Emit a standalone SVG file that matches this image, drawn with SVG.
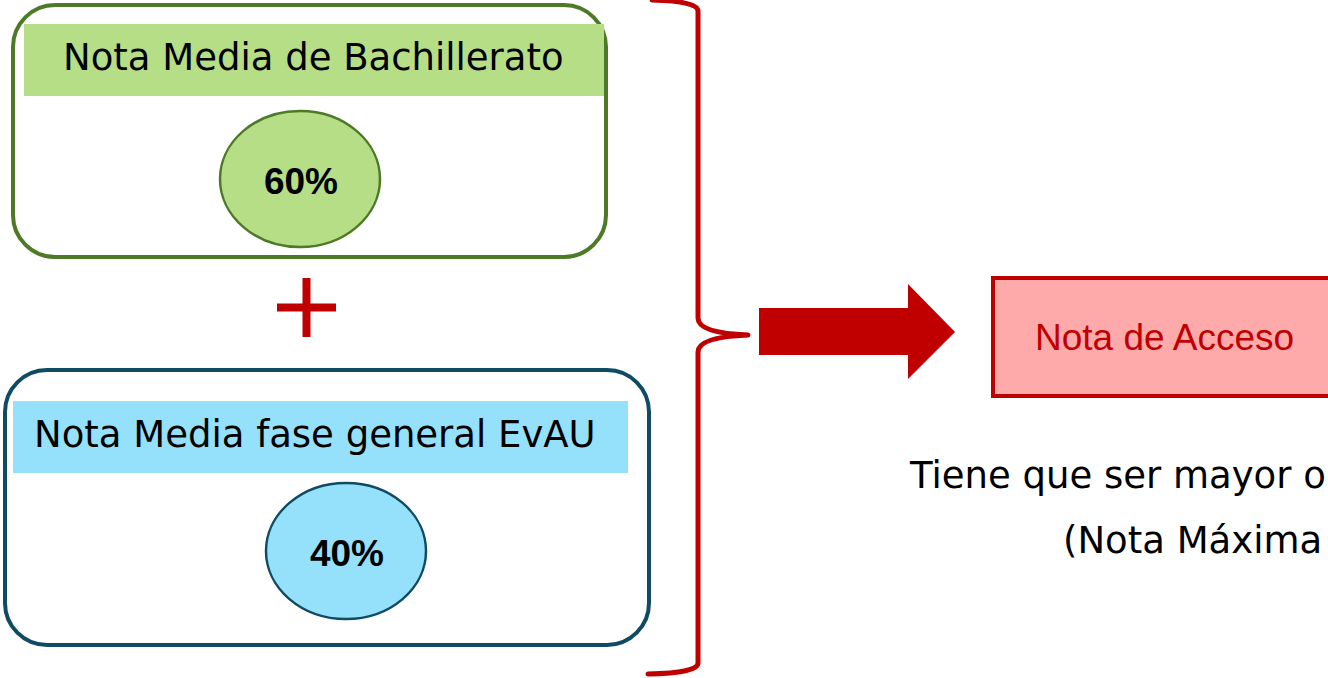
<svg xmlns="http://www.w3.org/2000/svg" width="1328" height="678" viewBox="0 0 1328 678">
<style>
.lbl{font-family:"DejaVu Sans",Verdana,sans-serif;font-size:37px;fill:#000}
.pct{font-family:"Liberation Sans",Arial,sans-serif;font-size:37px;font-weight:bold;fill:#000;text-anchor:middle}
.red{fill:#c00000}
</style>
<rect width="1328" height="678" fill="#fff"/>
<g id="bachillerato">
<rect x="13" y="5" width="593" height="252" rx="42" ry="42" fill="#fff" stroke="#4e7a27" stroke-width="4"/>
<rect x="24" y="24" width="580" height="72" fill="#b5de87"/>
<text class="lbl" x="63" y="70">Nota Media de Bachillerato</text>
<ellipse cx="300" cy="179" rx="80" ry="68" fill="#b5de87" stroke="#4e7a27" stroke-width="2.5"/>
<text class="pct" x="301" y="194">60%</text>
</g>
<g id="plus">
<rect x="302.5" y="278" width="8" height="59" class="red"/>
<rect x="277" y="303.5" width="59" height="8" class="red"/>
</g>
<g id="evau">
<rect x="5" y="370" width="644" height="275" rx="42" ry="42" fill="#fff" stroke="#0f4c63" stroke-width="4"/>
<rect x="13" y="401" width="615" height="72" fill="#95e1fb"/>
<text class="lbl" x="34" y="447">Nota Media fase general EvAU</text>
<ellipse cx="346" cy="551" rx="80" ry="68" fill="#95e1fb" stroke="#0f4c63" stroke-width="2.5"/>
<text class="pct" x="347" y="566">40%</text>
</g>
<g id="connectors">
<path d="M652 0 Q698 1 698 11 L698 318 Q698 333 748 335 Q698 337 698 352 L698 663 Q698 673 648 674" fill="none" stroke="#c00000" stroke-width="5" stroke-linecap="round" stroke-linejoin="round"/>
<polygon points="759,308 908,308 908,284 955,332 908,379 908,355 759,355" class="red"/>
</g>
<g id="acceso">
<rect x="993" y="278" width="350" height="118" fill="#ffaaaa" stroke="#c00000" stroke-width="4"/>
<text x="1035" y="350" font-family="Liberation Sans, Arial, sans-serif" font-size="37" fill="#c00000">Nota de Acceso</text>
</g>
<g id="note">
<text class="lbl" x="910" y="488">Tiene que ser mayor o</text>
<text class="lbl" x="1063" y="553">(Nota Máxima</text>
</g>
</svg>
